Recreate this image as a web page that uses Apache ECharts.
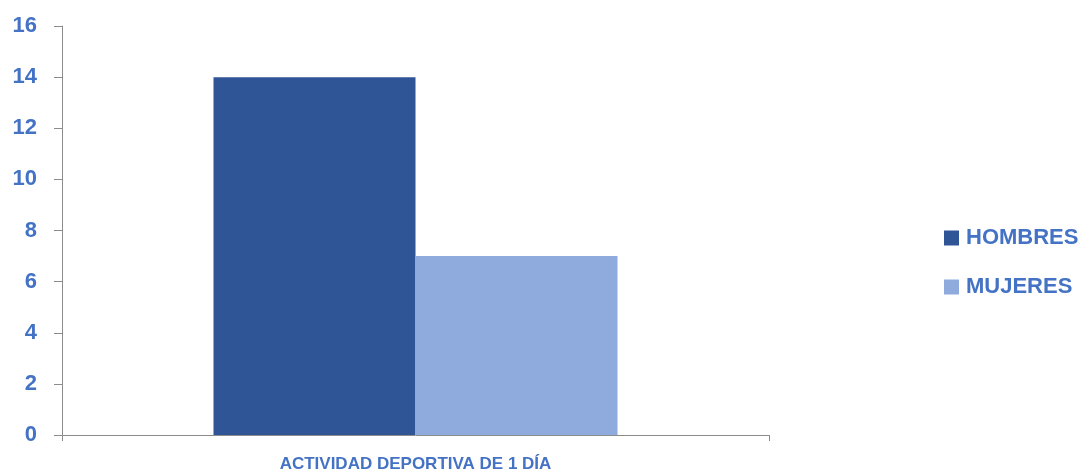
<!DOCTYPE html>
<html>
<head>
<meta charset="utf-8">
<script src="https://cdn.jsdelivr.net/npm/echarts@6/dist/echarts.min.js"></script>
<style>html,body{margin:0;padding:0;background:#fff;}#c{width:1081px;height:469px;}</style>
</head>
<body>
<div id="c"></div>
<script>
const categories = ['ACTIVIDAD DEPORTIVA DE 1 DÍA'];
const seriesNames = ['HOMBRES', 'MUJERES'];
const hombres = [14];
const mujeres = [7];
const yTicks = [0, 2, 4, 6, 8, 10, 12, 14, 16];

const txt = '#4472C4';
const font = '"Liberation Sans", Arial, sans-serif';
const chart = echarts.init(document.getElementById('c'), null, {renderer: 'canvas'});
chart.setOption({
  animation: false,
  backgroundColor: '#ffffff',
  grid: {left: 62, right: 312, top: 26, bottom: 34, containLabel: false, outerBoundsMode: 'none'},
  legend: {
    orient: 'vertical',
    left: 944,
    top: 226,
    padding: 0,
    itemWidth: 15,
    itemHeight: 15,
    itemGap: 25,
    icon: 'rect',
    data: seriesNames,
    textStyle: {color: txt, fontSize: 22, lineHeight: 24, fontWeight: 'bold', fontFamily: font, padding: [0, 0, 0, 2]}
  },
  xAxis: {
    type: 'category',
    data: categories,
    axisLine: {lineStyle: {color: '#8c8c8c', width: 1}},
    axisTick: {show: true, length: 6, lineStyle: {color: '#8c8c8c'}},
    axisLabel: {color: txt, fontSize: 17, fontWeight: 'bold', fontFamily: font, margin: 21}
  },
  yAxis: {
    type: 'value',
    min: yTicks[0],
    max: yTicks[yTicks.length - 1],
    interval: 2,
    axisLine: {show: true, lineStyle: {color: '#8c8c8c', width: 1}},
    axisTick: {show: true, length: 8, lineStyle: {color: '#8c8c8c'}},
    splitLine: {show: false},
    axisLabel: {color: txt, fontSize: 22, fontWeight: 'bold', fontFamily: font, margin: 25, padding: [3, 0, 0, 0]}
  },
  series: [
    {name: seriesNames[0], type: 'bar', data: hombres, barWidth: 202, barGap: '0%', itemStyle: {color: '#2F5597'}},
    {name: seriesNames[1], type: 'bar', data: mujeres, barWidth: 202, barGap: '0%', itemStyle: {color: '#8FAADC'}}
  ]
});
</script>
</body>
</html>
